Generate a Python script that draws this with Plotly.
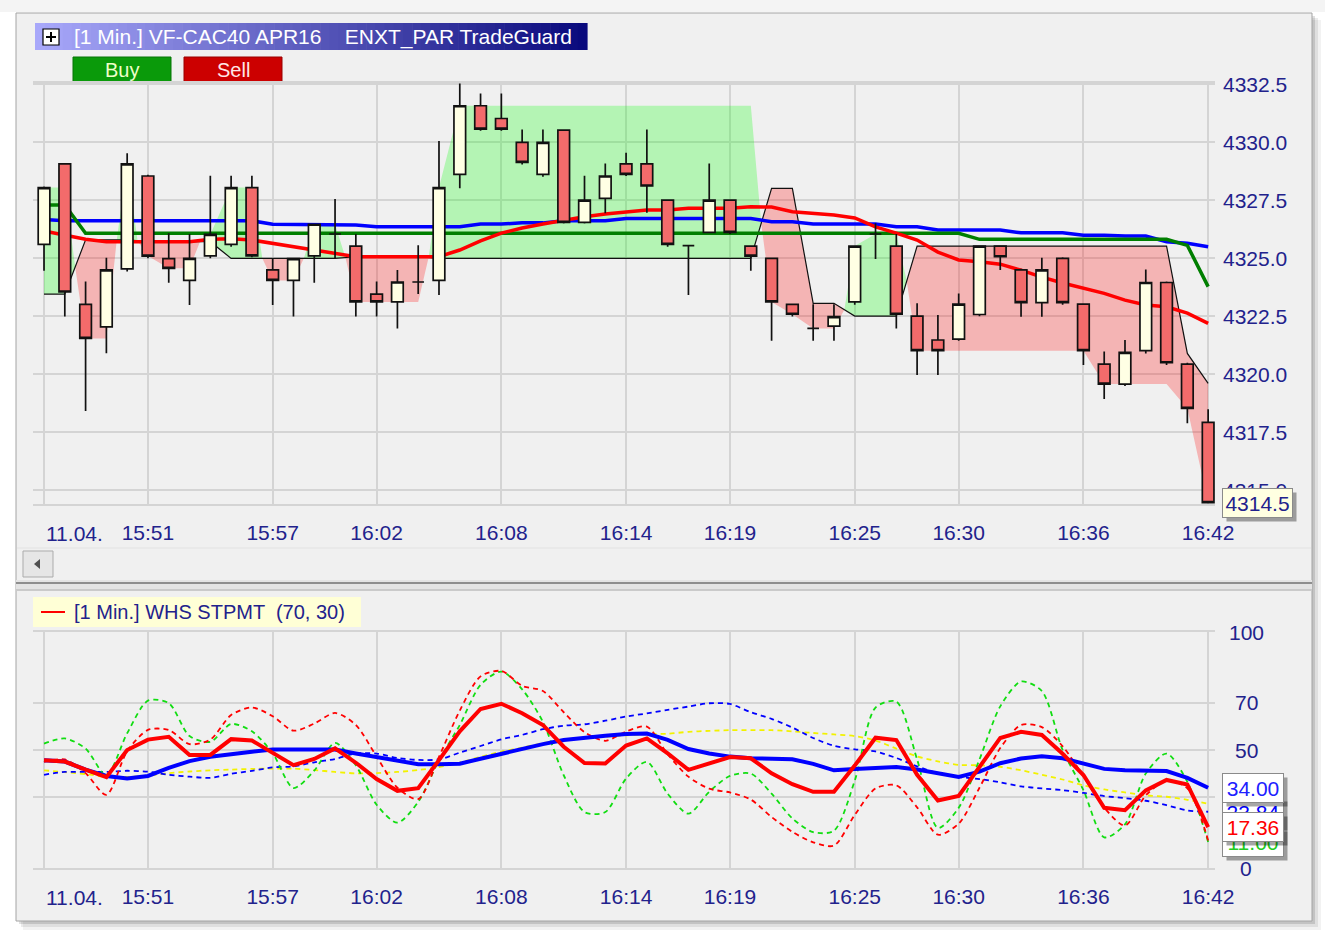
import plotly.graph_objects as go

W, H = 1325, 936
FONT = "Liberation Sans, Arial, sans-serif"
NAVY = "#22228C"


def px(x):
    return x / W


def py(y):
    return 1 - y / H


# ---------------- data ----------------
minutes = list(range(57))          # 15:46 ... 16:42, one candle per minute
time_tick_vals = [0, 5, 11, 16, 22, 28, 33, 39, 44, 50, 56]
time_tick_text = ["", "15:51", "15:57", "16:02", "16:08", "16:14", "16:19", "16:25", "16:30", "16:36", "16:42"]
date_label = "11.04."
price_ticks = [4315.0, 4317.5, 4320.0, 4322.5, 4325.0, 4327.5, 4330.0, 4332.5]
osc_ticks = [0, 30, 50, 70, 100]
osc_tick_text = ["0", "30", "50", "70", "100"]

opens = [4325.60, 4329.07, 4323.02, 4322.05, 4324.55, 4328.55, 4324.99, 4324.05, 4325.11, 4325.60,
         4328.05, 4324.50, 4324.05, 4325.11, 4326.05, 4325.53, 4323.46, 4323.12, 4323.98, 4324.05,
         4328.62, 4331.58, 4331.03, 4330.00, 4328.62, 4330.53, 4326.55, 4327.59, 4329.07, 4329.07,
         4327.51, 4325.55, 4326.12, 4327.51, 4325.53, 4325.00, 4323.02, 4321.98, 4322.08, 4323.12,
         4326.05, 4325.53, 4322.51, 4321.48, 4321.52, 4322.58, 4325.53, 4324.50, 4323.09, 4325.00,
         4323.03, 4320.44, 4319.58, 4321.02, 4323.96, 4320.44, 4317.93]
highs = [4328.10, 4329.10, 4324.00, 4325.03, 4329.53, 4328.60, 4326.08, 4326.05, 4328.56, 4328.56,
         4328.56, 4324.97, 4325.00, 4326.50, 4327.56, 4326.05, 4324.00, 4324.50, 4325.57, 4330.06,
         4332.54, 4332.11, 4332.11, 4330.56, 4330.56, 4330.55, 4328.56, 4329.09, 4329.55, 4330.56,
         4327.55, 4325.55, 4329.09, 4327.55, 4325.55, 4325.02, 4323.05, 4323.02, 4323.02, 4325.55,
         4326.51, 4326.05, 4323.06, 4322.56, 4323.49, 4325.55, 4325.55, 4324.55, 4325.03, 4325.05,
         4323.05, 4320.98, 4321.48, 4324.52, 4324.00, 4320.50, 4318.49]
lows = [4324.47, 4322.49, 4318.42, 4320.91, 4324.43, 4325.00, 4323.95, 4322.99, 4325.00, 4325.50,
        4325.05, 4322.99, 4322.49, 4323.95, 4325.00, 4322.49, 4322.49, 4321.98, 4323.46, 4323.42,
        4328.02, 4330.50, 4330.50, 4329.05, 4328.52, 4326.50, 4326.50, 4326.94, 4328.55, 4326.97,
        4325.50, 4323.42, 4326.08, 4326.05, 4324.47, 4321.45, 4322.49, 4321.45, 4321.45, 4323.00,
        4324.97, 4321.98, 4319.97, 4319.97, 4321.45, 4322.50, 4324.50, 4322.48, 4322.48, 4323.00,
        4320.40, 4318.94, 4319.50, 4320.90, 4320.40, 4317.89, 4314.45]
closes = [4328.05, 4323.55, 4321.55, 4324.50, 4329.07, 4325.10, 4324.57, 4325.00, 4326.03, 4328.05,
          4325.11, 4324.05, 4324.99, 4326.47, 4326.05, 4323.12, 4323.12, 4323.98, 4323.98, 4328.05,
          4331.58, 4330.57, 4330.57, 4329.14, 4330.00, 4326.55, 4327.51, 4328.55, 4328.62, 4328.12,
          4325.60, 4325.55, 4327.51, 4326.12, 4325.10, 4323.12, 4322.59, 4321.98, 4322.49, 4325.53,
          4326.05, 4322.59, 4321.02, 4321.02, 4323.03, 4325.53, 4325.07, 4323.09, 4324.50, 4323.09,
          4321.02, 4319.58, 4320.95, 4323.96, 4320.50, 4318.53, 4314.47]

ma_blue = [4326.68, 4326.62, 4326.62, 4326.62, 4326.62, 4326.62, 4326.62, 4326.62, 4326.62, 4326.62,
           4326.62, 4326.47, 4326.47, 4326.47, 4326.44, 4326.44, 4326.36, 4326.36, 4326.36, 4326.36,
           4326.36, 4326.48, 4326.48, 4326.53, 4326.53, 4326.62, 4326.62, 4326.62, 4326.72, 4326.72,
           4326.72, 4326.72, 4326.72, 4326.72, 4326.72, 4326.58, 4326.58, 4326.48, 4326.48, 4326.48,
           4326.48, 4326.36, 4326.36, 4326.22, 4326.22, 4326.22, 4326.22, 4326.10, 4326.10, 4326.10,
           4326.00, 4326.00, 4325.96, 4325.96, 4325.72, 4325.65, 4325.50]
ma_green = [4327.30, 4327.30, 4326.08, 4326.08, 4326.08, 4326.08, 4326.08, 4326.08, 4326.08, 4326.08,
            4326.08, 4326.08, 4326.08, 4326.08, 4326.08, 4326.08, 4326.08, 4326.08, 4326.08, 4326.08,
            4326.08, 4326.08, 4326.08, 4326.08, 4326.08, 4326.08, 4326.08, 4326.08, 4326.08, 4326.08,
            4326.08, 4326.08, 4326.08, 4326.08, 4326.08, 4326.08, 4326.08, 4326.08, 4326.08, 4326.08,
            4326.08, 4326.08, 4326.08, 4326.08, 4326.08, 4325.82, 4325.82, 4325.82, 4325.82, 4325.82,
            4325.82, 4325.82, 4325.82, 4325.82, 4325.82, 4325.56, 4323.78]
ma_red = [4326.18, 4326.00, 4325.82, 4325.72, 4325.72, 4325.72, 4325.72, 4325.72, 4325.82, 4325.84,
          4325.79, 4325.65, 4325.49, 4325.34, 4325.23, 4325.07, 4325.07, 4325.07, 4325.07, 4325.07,
          4325.36, 4325.75, 4326.09, 4326.31, 4326.48, 4326.65, 4326.79, 4326.91, 4327.01, 4327.08,
          4327.08, 4327.16, 4327.16, 4327.16, 4327.22, 4327.21, 4327.01, 4326.94, 4326.87, 4326.74,
          4326.36, 4326.09, 4325.79, 4325.27, 4324.93, 4324.85, 4324.75, 4324.49, 4324.19, 4323.94,
          4323.71, 4323.49, 4323.20, 4322.99, 4322.91, 4322.64, 4322.20]

# TradeGuard: +1 long (green zone), -1 short (red zone)
guard_trend = [1, 1, -1, -1, 1, -1, -1, -1, 1, 1,
               1, -1, -1, 1, 1, -1, -1, -1, -1, 1,
               1, 1, 1, 1, 1, 1, 1, 1, 1, 1,
               1, 1, 1, 1, 1, -1, -1, -1, -1, 1,
               1, 1, -1, -1, -1, -1, -1, -1, -1, -1,
               -1, -1, -1, -1, -1, -1, -1]
guard_stop = [4323.46, 4323.46, 4325.80, 4325.80, 4325.80, 4325.72, 4325.72, 4325.72, 4325.72, 4325.00,
              4325.00, 4325.00, 4325.00, 4325.00, 4325.00, 4325.07, 4325.07, 4325.07, 4325.07, 4325.00,
              4325.00, 4325.00, 4325.00, 4325.00, 4325.00, 4325.00, 4325.00, 4325.00, 4325.00, 4325.00,
              4325.00, 4325.00, 4325.00, 4325.00, 4325.00, 4328.02, 4328.02, 4323.06, 4323.06, 4322.51,
              4322.51, 4322.51, 4325.53, 4325.53, 4325.53, 4325.53, 4325.53, 4325.53, 4325.53, 4325.53,
              4325.53, 4325.53, 4325.53, 4325.53, 4325.53, 4320.90, 4319.61]
guard_band = [4328.05, 4328.05, 4321.55, 4321.55, 4329.07, 4325.10, 4324.57, 4324.57, 4326.03, 4328.05,
              4328.05, 4324.05, 4324.05, 4326.47, 4326.47, 4323.12, 4323.12, 4323.12, 4323.12, 4328.05,
              4331.58, 4331.58, 4331.58, 4331.58, 4331.58, 4331.58, 4331.58, 4331.58, 4331.58, 4331.58,
              4331.58, 4331.58, 4331.58, 4331.58, 4331.58, 4323.12, 4322.59, 4321.98, 4321.98, 4325.53,
              4326.05, 4326.05, 4321.02, 4321.02, 4321.02, 4321.02, 4321.02, 4321.02, 4321.02, 4321.02,
              4321.02, 4319.58, 4319.58, 4319.58, 4319.58, 4318.53, 4314.47]

# WHS STPMT oscillator
stpmt = [45.7, 45.1, 41.7, 38.5, 50.0, 54.4, 55.6, 47.9, 47.9, 54.6,
         54.0, 48.6, 43.6, 46.2, 50.7, 44.6, 37.7, 32.7, 33.8, 45.7,
         57.9, 67.4, 69.6, 65.6, 60.6, 51.4, 44.5, 44.3, 51.9, 54.9,
         48.6, 41.6, 44.3, 47.0, 46.5, 40.1, 35.5, 32.3, 32.3, 43.4,
         55.2, 54.2, 39.5, 28.6, 30.5, 42.5, 55.1, 57.7, 56.4, 48.4,
         39.4, 25.5, 24.5, 32.9, 37.3, 35.4, 17.36]
stpmt_ma = [45.7, 45.1, 41.7, 39.0, 37.9, 39.0, 42.4, 45.3, 47.1, 48.4,
            49.3, 50.2, 50.2, 50.2, 50.2, 48.5, 47.0, 45.8, 44.0, 44.0,
            44.2, 46.3, 48.4, 50.5, 52.5, 54.2, 55.3, 56.0, 56.8, 57.0,
            54.3, 50.4, 48.5, 47.2, 46.5, 46.4, 46.1, 44.1, 41.4, 41.9,
            42.3, 42.8, 41.7, 40.2, 38.6, 40.8, 44.4, 46.4, 47.3, 46.5,
            44.2, 42.0, 41.4, 41.4, 41.1, 38.2, 34.00]
stoch_red = [45.0, 46.0, 40.2, 31.0, 49.5, 58.5, 58.5, 52.5, 54.4, 64.8,
             68.0, 64.3, 58.2, 61.2, 65.7, 60.6, 47.2, 34.0, 29.2, 47.1,
             66.7, 81.2, 83.5, 77.2, 75.0, 66.0, 57.6, 53.9, 57.8, 59.9,
             48.2, 38.7, 33.6, 32.0, 29.0, 21.6, 15.3, 10.9, 9.5, 22.5,
             33.7, 35.0, 25.7, 14.1, 18.8, 34.0, 50.8, 60.6, 59.7, 51.6,
             38.9, 25.6, 18.0, 30.8, 36.9, 33.8, 11.7]
stoch_green = [52.7, 54.9, 50.6, 39.3, 57.1, 70.9, 69.9, 55.9, 53.5, 61.0,
               57.9, 48.6, 33.9, 41.3, 53.0, 43.5, 26.8, 19.2, 28.0, 45.7,
               60.6, 77.6, 83.2, 75.7, 61.9, 39.3, 23.7, 23.7, 37.9, 45.0,
               31.5, 23.0, 32.3, 39.0, 40.0, 31.5, 21.0, 15.2, 15.8, 37.0,
               68.0, 70.5, 46.0, 17.0, 25.5, 46.0, 68.5, 79.0, 75.0, 50.0,
               33.0, 13.0, 18.5, 40.0, 48.5, 36.5, 11.00]
stoch_blue = [39.5, 40.7, 40.7, 40.7, 41.2, 40.8, 39.5, 38.7, 38.2, 39.9,
              41.2, 42.6, 43.1, 44.8, 46.2, 48.5, 48.5, 46.6, 45.8, 46.0,
              48.9, 51.7, 54.5, 56.4, 58.8, 60.3, 60.9, 62.4, 64.2, 65.5,
              67.0, 68.4, 69.8, 69.5, 66.0, 63.2, 59.5, 55.1, 51.8, 50.3,
              49.4, 46.6, 43.1, 40.2, 38.6, 37.7, 36.3, 34.6, 33.7, 33.0,
              31.8, 30.5, 29.6, 28.5, 26.6, 24.4, 23.84]
stoch_yellow = [41.4, 40.6, 39.8, 38.6, 38.6, 39.1, 40.2, 40.9, 41.4, 41.7,
                42.0, 42.1, 42.1, 41.5, 40.7, 40.1, 40.2, 40.7, 41.5, 42.8,
                44.7, 47.1, 49.3, 51.0, 52.9, 54.3, 54.9, 55.6, 56.2, 56.7,
                56.9, 57.7, 58.1, 58.4, 58.4, 58.4, 57.9, 57.2, 56.6, 55.9,
                54.0, 50.6, 47.3, 45.2, 43.7, 43.5, 42.9, 41.4, 39.5, 37.5,
                35.0, 33.3, 32.0, 30.8, 30.2, 28.9, 27.2]

# ---------------- zone polygons from the guard arrays ----------------
def trend_runs(trend):
    out, s = [], 0
    for i in range(1, len(trend) + 1):
        if i == len(trend) or trend[i] != trend[s]:
            out.append((s, i - 1, trend[s]))
            s = i
    return out


n = len(minutes)
zones = {1: ([], []), -1: ([], [])}
for s, e, t in trend_runs(guard_trend):
    xs, ys = [], []
    if s > 0:
        xs.append(minutes[s] - 0.5)
        ys.append((guard_stop[s - 1] + guard_stop[s]) / 2)
    xs += minutes[s:e + 1]
    ys += guard_band[s:e + 1]
    if e < n - 1:
        xs.append(minutes[e] + 0.5)
        ys.append((guard_stop[e] + guard_stop[e + 1]) / 2)
    xs += minutes[s:e + 1][::-1]
    ys += guard_stop[s:e + 1][::-1]
    zones[t][0].extend(xs + [None])
    zones[t][1].extend(ys + [None])

fig = go.Figure()

fig.add_trace(go.Scatter(x=zones[1][0], y=zones[1][1], fill="toself", mode="lines",
                         fillcolor="rgba(0,255,0,0.25)", line=dict(width=0),
                         xaxis="x", yaxis="y", hoverinfo="skip"))
fig.add_trace(go.Scatter(x=zones[-1][0], y=zones[-1][1], fill="toself", mode="lines",
                         fillcolor="rgba(255,0,0,0.25)", line=dict(width=0),
                         xaxis="x", yaxis="y", hoverinfo="skip"))
fig.add_trace(go.Scatter(x=minutes, y=guard_stop, mode="lines",
                         line=dict(color="#111111", width=1.2), xaxis="x", yaxis="y"))
fig.add_trace(go.Scatter(x=minutes, y=ma_blue, mode="lines",
                         line=dict(color="#0000FF", width=3.5), xaxis="x", yaxis="y"))
fig.add_trace(go.Scatter(x=minutes, y=ma_green, mode="lines",
                         line=dict(color="#007F00", width=3.5), xaxis="x", yaxis="y"))
fig.add_trace(go.Scatter(x=minutes, y=ma_red, mode="lines",
                         line=dict(color="#FF0000", width=3.5), xaxis="x", yaxis="y"))

fig.add_trace(go.Candlestick(
    x=minutes, open=opens, high=highs, low=lows, close=closes,
    xaxis="x", yaxis="y2", whiskerwidth=0,
    increasing=dict(fillcolor="#FFFFE4", line=dict(color="#111111", width=1.7)),
    decreasing=dict(fillcolor="#F36B6B", line=dict(color="#111111", width=1.7)),
    hoverinfo="skip"))

# oscillator panel
dash = "5px,4px"
for ser, col in [(stoch_yellow, "#F2F200"), (stoch_blue, "#0000FF"),
                 (stoch_green, "#11DD11"), (stoch_red, "#FF0000")]:
    fig.add_trace(go.Scatter(x=minutes, y=ser, mode="lines",
                             line=dict(color=col, width=1.8, dash=dash, shape="spline", smoothing=0.8),
                             xaxis="x2", yaxis="y3"))
fig.add_trace(go.Scatter(x=minutes, y=stpmt_ma, mode="lines",
                         line=dict(color="#0000FF", width=4), xaxis="x2", yaxis="y3"))
fig.add_trace(go.Scatter(x=minutes, y=stpmt, mode="lines",
                         line=dict(color="#FF0000", width=4), xaxis="x2", yaxis="y3"))

# ---------------- layout ----------------
GRID = "#D4D4D4"
xrange = [-0.53, 56.33]
price_range = [4314.41, 4332.56]
tickfont = dict(family=FONT, size=21, color=NAVY)

fig.update_layout(
    template="none",
    width=W, height=H, autosize=False, margin=dict(l=0, r=0, t=0, b=0, pad=0),
    paper_bgcolor="white", plot_bgcolor="rgba(0,0,0,0)", showlegend=False,
    hovermode=False, boxgap=0.2,
    xaxis=dict(domain=[px(33), px(1215)], range=xrange, anchor="y", automargin=False,
               tickvals=time_tick_vals, ticktext=time_tick_text, tickfont=tickfont,
               showgrid=True, gridcolor=GRID, gridwidth=2, zeroline=False,
               showline=True, mirror=True, linecolor=GRID, linewidth=2,
               ticks="", ticklabelstandoff=9, rangeslider=dict(visible=False)),
    yaxis=dict(domain=[py(504), py(83)], range=price_range, anchor="x", side="right", automargin=False,
               tickvals=price_ticks, tickformat=".1f", tickfont=tickfont,
               showgrid=True, gridcolor=GRID, gridwidth=2, zeroline=False, showline=False,
               ticks="", ticklabelstandoff=7),
    yaxis2=dict(domain=[py(504), py(83)], range=price_range, overlaying="y", anchor="x",
                automargin=False, visible=False),
    xaxis2=dict(domain=[px(33), px(1215)], range=xrange, anchor="y3", automargin=False,
                tickvals=time_tick_vals, ticktext=time_tick_text, tickfont=tickfont,
                showgrid=True, gridcolor=GRID, gridwidth=2, zeroline=False,
                showline=True, mirror=True, linecolor=GRID, linewidth=2,
                ticks="", ticklabelstandoff=9),
    yaxis3=dict(domain=[py(868), py(632)], range=[0, 100], anchor="x2", side="right", automargin=False,
                tickvals=osc_ticks, showticklabels=False, showline=False,
                showgrid=True, gridcolor=GRID, gridwidth=2, zeroline=False),
)

shapes = []


def rect(x0, y0, x1, y1, fill, line=None, lw=1, layer="below"):
    shapes.append(dict(type="rect", xref="paper", yref="paper",
                       x0=px(x0), x1=px(x1), y0=py(y1), y1=py(y0),
                       fillcolor=fill, layer=layer,
                       line=dict(color=line or "rgba(0,0,0,0)", width=lw if line else 0)))


def hline(x0, x1, y, color, lw=1, layer="below"):
    shapes.append(dict(type="line", xref="paper", yref="paper",
                       x0=px(x0), x1=px(x1), y0=py(y), y1=py(y), layer=layer,
                       line=dict(color=color, width=lw)))


# page backdrop, window shadow + window
rect(0, 0, 1325, 12, "#F4F4F4")
rect(23, 20, 1321, 930, "rgba(0,0,0,0.05)")
rect(21, 18, 1318, 927, "rgba(0,0,0,0.08)")
rect(19, 16, 1315, 924, "rgba(0,0,0,0.12)")
rect(16, 13, 1312, 921, "#F0F0F0", line="#A4A4A4", lw=1)

# scrollbar row + splitter
hline(17, 1311, 548, "#E2E2E2", 1)
rect(23, 551, 53, 577, "#E6E6E6", line="#ABABAB", lw=1)
shapes.append(dict(type="path", xref="paper", yref="paper", layer="below",
                   path="M {},{} L {},{} L {},{} Z".format(px(34), py(564), px(40), py(559), px(40), py(569)),
                   fillcolor="#505050", line=dict(width=0)))
rect(16, 580, 1312, 591, "#E4E4E4")
hline(16, 1312, 583, "#8E8E8E", 2)
hline(16, 1312, 590, "#B0B0B0", 1)

# title bar gradient
n_sl = 60
x_a, x_b = 35, 587
c_a, c_b = (168, 168, 250), (10, 10, 125)
for k in range(n_sl):
    f = k / (n_sl - 1)
    col = "rgb({},{},{})".format(*[int(round(a + (b - a) * f)) for a, b in zip(c_a, c_b)])
    xa = x_a + (x_b - x_a) * k / n_sl
    xb = x_a + (x_b - x_a) * (k + 1) / n_sl + 0.6
    rect(xa, 23, xb, 50, col)
rect(43, 29, 59, 45, "white", line="black", lw=1.2)
shapes.append(dict(type="line", xref="paper", yref="paper", x0=px(46), x1=px(56), y0=py(37), y1=py(37),
                   line=dict(color="black", width=2)))
shapes.append(dict(type="line", xref="paper", yref="paper", x0=px(51), x1=px(51), y0=py(32), y1=py(42),
                   line=dict(color="black", width=2)))

# buy / sell buttons
rect(73, 57, 171, 82, "#0A9A0A", line="#077407", lw=1)
rect(184, 57, 282, 82, "#CC0000", line="#990000", lw=1)

# oscillator legend box
rect(33, 597, 361, 627, "#FFFFD6")
hline(41, 65, 612, "#FF0000", 2, layer="above")

fig.update_layout(shapes=shapes)

ann = []
ann.append(dict(text="[1 Min.] VF-CAC40 APR16\u00a0\u00a0\u00a0\u00a0ENXT_PAR TradeGuard",
                x=px(72), y=py(37), xref="paper", yref="paper", xanchor="left", yanchor="middle",
                showarrow=False, font=dict(family=FONT, size=21, color="white")))
ann.append(dict(text="Buy", x=px(122), y=py(70), xref="paper", yref="paper", showarrow=False,
                xanchor="center", yanchor="middle",
                font=dict(family=FONT, size=20, color="#EEFFC8")))
ann.append(dict(text="Sell", x=px(233), y=py(70), xref="paper", yref="paper", showarrow=False,
                xanchor="center", yanchor="middle",
                font=dict(family=FONT, size=20, color="#FFE6E6")))
ann.append(dict(text="[1 Min.] WHS STPMT \u00a0(70, 30)", x=px(72), y=py(612), xref="paper", yref="paper",
                xanchor="left", yanchor="middle", showarrow=False,
                font=dict(family=FONT, size=20, color=NAVY)))
for xr, yy in [("x", 533), ("x2", 897)]:
    ann.append(dict(text=date_label, x=time_tick_vals[0], xref=xr, xanchor="left",
                    y=py(yy), yref="paper", yanchor="middle", showarrow=False, font=tickfont))
for v, t in zip(osc_ticks, osc_tick_text):
    ann.append(dict(text=t, x=px(1246), xref="paper", y=v, yref="y3", xanchor="center", yanchor="middle",
                    showarrow=False, font=tickfont))


def value_box(val, text, color, bg, yref, w=58):
    common = dict(x=px(1222), xref="paper", y=val, yref=yref, xanchor="left", yanchor="middle",
                  showarrow=False, width=w, height=26, borderpad=1, borderwidth=1)
    ann.append(dict(text=" ", bgcolor="rgba(0,0,0,0.35)", bordercolor="rgba(0,0,0,0)",
                    xshift=4, yshift=-4, font=dict(family=FONT, size=21, color="rgba(0,0,0,0)"), **common))
    ann.append(dict(text=text, bgcolor=bg, bordercolor="#8A8A8A",
                    font=dict(family=FONT, size=21, color=color), **common))


value_box(closes[-1], "{:.1f}".format(closes[-1]), NAVY, "#FFFFE1", "y", w=67)
value_box(stoch_green[-1], "{:.2f}".format(stoch_green[-1]), "#22CC22", "white", "y3")
value_box(stoch_blue[-1], "{:.2f}".format(stoch_blue[-1]), "#0000FF", "white", "y3")
value_box(stpmt[-1], "{:.2f}".format(stpmt[-1]), "#FF0000", "white", "y3")
value_box(stpmt_ma[-1], "{:.2f}".format(stpmt_ma[-1]), "#2020FF", "white", "y3")

fig.update_layout(annotations=ann)

post = ("document.body.style.margin='0';document.body.style.overflow='hidden';"
        "var d=document.getElementById('{plot_id}');d.style.position='absolute';"
        "d.style.left='0px';d.style.top='0px';")
fig.write_html("out.html", post_script=post, config={"displayModeBar": False})
